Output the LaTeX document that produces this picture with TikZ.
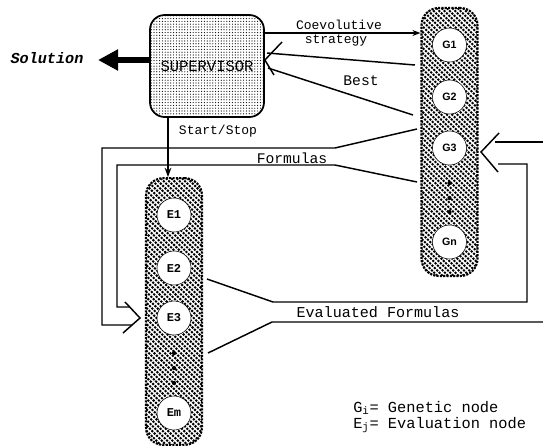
\documentclass[tikz,border=0pt]{standalone}
\usepackage{fontspec}
\setmonofont{Liberation Mono}
\newfontfamily\gnfont{Liberation Sans}
\usetikzlibrary{patterns.meta,arrows.meta}

\tikzset{
        wire/.style={line width=1.1pt},
        colbox/.style={draw, line width=1.6pt, dash pattern=on 1.6pt off 0.9pt, rounded corners=13pt,
                path picture={\foreach \k in {0,...,62}
                        \draw[line width=1.5pt] ([xshift={\k*4pt-205pt}]path picture bounding box.north west) -- ++(260pt,-260pt);},
                minimum width=42pt, inner sep=0pt},
        gcirc/.style={circle, draw, line width=0.4pt, fill=white, minimum size=25.5pt, inner sep=0pt,
                font=\gnfont\bfseries\fontsize{8}{9}\selectfont},
        ecirc/.style={circle, draw, line width=0.4pt, fill=white, minimum size=25.5pt, inner sep=0pt,
                font=\ttfamily\bfseries\fontsize{9}{10}\selectfont},
        blob/.style={circle, fill, inner sep=0pt, minimum size=3.2pt},
        lab/.style={font=\ttfamily\fontsize{#1}{#1}\selectfont, inner sep=0pt, anchor=base},
}

\begin{document}
\begin{tikzpicture}[x=0.75pt,y=-0.75pt]
        \useasboundingbox (0,0) rectangle (543,447);

        \node[colbox, minimum height=201pt] (gcol) at (449.5,142) {};
        \node[colbox, minimum height=200pt] (ecol) at (174,311.5) {};
        \foreach \n/\y in {1/45,2/97,3/148,n/242}
                \node[gcirc] (g\n) at (449.5,\y) {G\n};
        \foreach \n/\y in {1/215,2/268,3/318,m/413}
                \node[ecirc] (e\n) at (174,\y) {E\n};
        \foreach \y in {183,198,212}
                \node[blob] (gdot\y) at (449.5,\y) {};
        \foreach \y in {353,368,383}
                \node[blob] (edot\y) at (174,\y) {};

        \node[draw, line width=1.3pt, rounded corners=11pt, pattern={Dots[distance=2.1pt,radius=0.45pt]},
                minimum width=85.5pt, minimum height=76.5pt, font=\ttfamily\fontsize{11.6}{12}\selectfont]
                (super) at (207,66) {SUPERVISOR};

        \coordinate (sol) at (98,60);
        \coordinate (co) at (340,33);
        \coordinate (ss) at (168,150);
        \node[lab=11.4, font=\ttfamily\bfseries\itshape\fontsize{11.4}{12}\selectfont] (soltext) at (47,63) {Solution};
        \draw[line width=5pt, -{Triangle[length=15pt,width=15pt]}] (super.west |- sol) -- (sol);

        \draw[wire, -{Stealth[length=6pt,width=4.5pt]}] (super.east |- co) -- (gcol.west |- co);
        \node[lab=9.75] (coevo) at (339,29) {Coevolutive};
        \node[lab=9.75] (strat) at (336,43) {strategy};

        \draw[wire, -{Stealth[length=7pt,width=5pt]}] (super.south -| ss) -- (ecol.north -| ss);
        \node[lab=9.75] (start) at (218,134) {Start/Stop};

        \coordinate (btip) at (super.east |- sol);
        \coordinate (bin1) at (415,65);
        \coordinate (bin2) at (413,115);
        \draw[wire] (282,42) -- (btip) -- (274,75);
        \draw[wire] (267,53) -- (bin1);
        \draw[wire] (268,68) -- (bin2);
        \node[lab=11] (best) at (361,85) {Best};

        \coordinate (fout1) at (417,129);
        \coordinate (fout2) at (417,182);
        \coordinate (ftip) at (140,318);
        \draw[wire] (fout1) -- (335,148) -- (102,148) -- (102,325) -- (132,325);
        \draw[wire] (fout2) -- (335,165) -- (117,165) -- (117,307) -- (130,307);
        \draw[wire] (125,302) -- (ftip) -- (123,333);
        \node[lab=11] (form) at (292,163) {Formulas};

        \coordinate (eout1) at (207,279);
        \coordinate (eout2) at (208,353);
        \coordinate (gtip) at (481,152);
        \draw[wire] (eout1) -- (273,302) -- (527,302) -- (527,164) -- (498,164);
        \draw[wire] (eout2) -- (272,322) -- (543,322);
        \draw[wire] (543,142) -- (495,142);
        \draw[wire] (499,133) -- (gtip) -- (498,172);
        \node[lab=11.3] (evform) at (378,317) {Evaluated Formulas};

        \node[lab=11.5, anchor=base west] (leg1) at (353,412) {G\textsubscript{i}= Genetic node};
        \node[lab=11.5, anchor=base west] (leg2) at (353,428) {E\textsubscript{j}= Evaluation node};
\end{tikzpicture}
\end{document}
